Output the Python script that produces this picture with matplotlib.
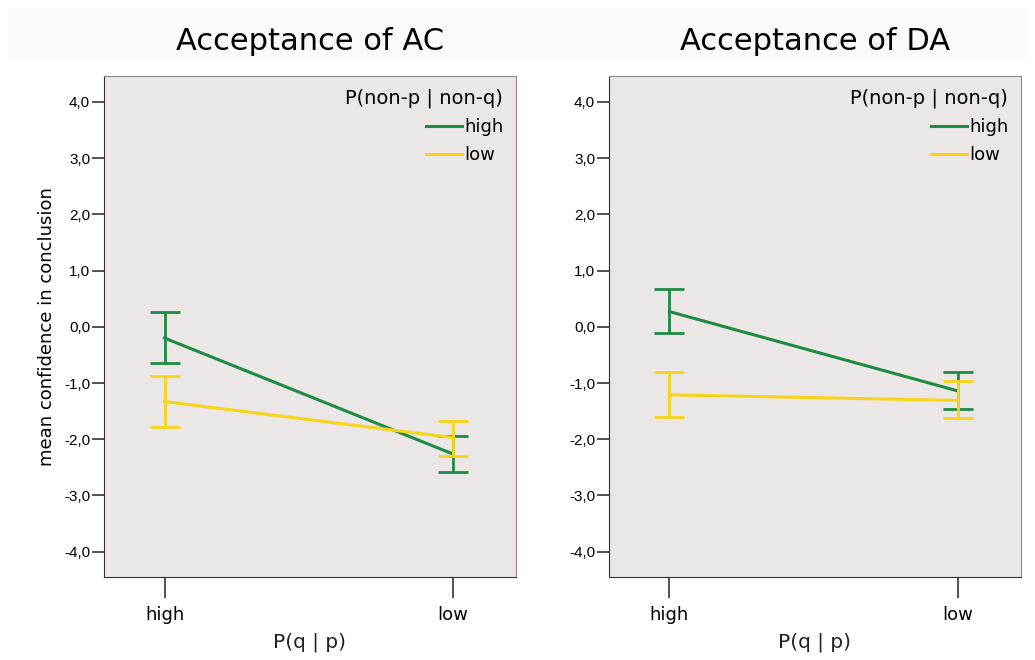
import numpy as np
import matplotlib.pyplot as plt
from matplotlib.ticker import FuncFormatter

levels = ['high', 'low']
groups = ['high', 'low']
titles = ['Acceptance of AC', 'Acceptance of DA']

# means and error bar ends, [high, low] on P(q|p)
ac_mean = {'high': [-0.20, -2.26], 'low': [-1.33, -1.97]}
ac_top = {'high': [0.27, -1.95], 'low': [-0.87, -1.67]}
ac_bot = {'high': [-0.64, -2.58], 'low': [-1.78, -2.29]}

da_mean = {'high': [0.27, -1.14], 'low': [-1.21, -1.31]}
da_top = {'high': [0.68, -0.80], 'low': [-0.80, -0.97]}
da_bot = {'high': [-0.11, -1.46], 'low': [-1.60, -1.63]}

colors = {'high': '#1e8b45', 'low': '#f7d417'}
yticks = np.arange(-4, 5, 1)

plt.rcParams['font.family'] = ['DejaVu Sans']
fig = plt.figure(figsize=(10.35, 6.6), dpi=100)

# pale title band behind everything
fig.patches.append(plt.Rectangle((0.008, 0.91), 0.984, 0.078, transform=fig.transFigure,
                                 facecolor='#fbfafa', edgecolor='none', zorder=-10))

panels = [(ac_mean, ac_top, ac_bot), (da_mean, da_top, da_bot)]
lefts = [0.1005, 0.5884]
for k in range(2):
    mean, top, bot = panels[k]
    ax = fig.add_axes([lefts[k], 0.1258, 0.398, 0.759])
    ax.set_facecolor('#ebe7e6')
    x = np.arange(len(levels))
    for g in groups:
        m = np.array(mean[g])
        err = [m - np.array(bot[g]), np.array(top[g]) - m]
        ax.plot(x, m, color=colors[g], lw=2.2, label=g)
        ax.errorbar(x, m, yerr=err, fmt='none', ecolor=colors[g],
                    elinewidth=2, capsize=10.5, capthick=2)
    ax.set_xlim(-0.21, 1.22)
    ax.set_ylim(-4.45, 4.46)
    ax.set_xticks(x)
    ax.set_xticklabels(levels, fontsize=13)
    ax.set_yticks(yticks)
    ax.yaxis.set_major_formatter(FuncFormatter(lambda v, p: ('%.1f' % v).replace('.', ',')))
    for lab in ax.get_yticklabels():
        lab.set_family(['Liberation Sans'])
    ax.tick_params(axis='y', length=9, width=1.2, labelsize=11, color='#333333', pad=1)
    ax.tick_params(axis='x', length=15, width=1.2, color='#333333', pad=6)
    for s in ax.spines.values():
        s.set_color('#8a8a8a')
    ax.spines['left'].set_color('#333333')
    ax.spines['bottom'].set_color('#333333')
    ax.set_xlabel('P(q | p)', fontsize=14.5, labelpad=6, color='#222222')
    if k == 0:
        ax.set_ylabel('mean confidence in conclusion', fontsize=13, labelpad=6)
    leg = ax.legend(title='P(non-p | non-q)', loc='upper right', frameon=False,
                    fontsize=13, title_fontsize=14, handlelength=2.0,
                    handletextpad=0.1, labelspacing=0.55, borderaxespad=0.3,
                    alignment='right')
    ax.set_title(titles[k], fontsize=22, pad=19)

fig.savefig('out.png', dpi=100, facecolor='white')
